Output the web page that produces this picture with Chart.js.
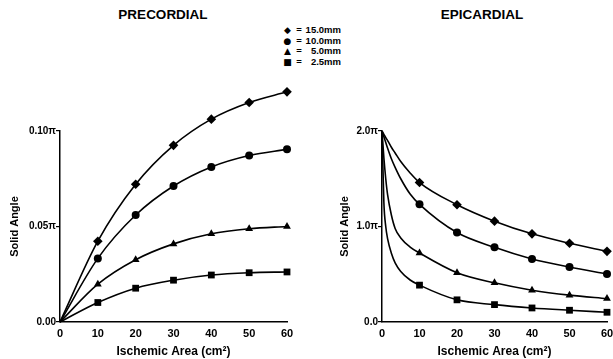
<!DOCTYPE html>
<html>
<head>
<meta charset="utf-8">
<script src="https://cdn.jsdelivr.net/npm/chart.js@4"></script>
<style>
  body { margin: 0; background: #fff; width: 613px; height: 359px; overflow: hidden; position: relative; }
  canvas { position: absolute; top: 0; }
  .ttl { position: absolute; top: 7px; font: bold 13.5px "Liberation Sans", Arial, sans-serif; color: #000; transform: translateX(-50%); white-space: nowrap; }
  .leg { position: absolute; left: 282px; font: bold 9.5px "Liberation Sans", Arial, sans-serif; color: #000; }
  .leg div { height: 10.7px; line-height: 10.7px; white-space: nowrap; }
  .leg .m { display: inline-block; width: 11px; text-align: center; font-family: "DejaVu Sans"; font-size: 9px; }
  .leg .e { display: inline-block; width: 12px; text-align: center; }
  .leg .v { display: inline-block; width: 36px; text-align: right; }
</style>
</head>
<body>
<div class="ttl" style="left:163px">PRECORDIAL</div>
<div class="ttl" style="left:482px">EPICARDIAL</div>
<div class="leg" id="legend" style="top:25px"></div>
<canvas id="pre" width="300" height="359" style="left:0"></canvas>
<canvas id="epi" width="320" height="359" style="left:300px"></canvas>
<script>
// electrode distances
let distances = ['15.0mm', '10.0mm', '5.0mm', '2.5mm'];
let markers = ['rectRot', 'circle', 'triangle', 'rect'];
let legendGlyphs = ['◆', '●', '▲', '■'];
let markerSizes = [4.8, 4, 4.5, 4.8];

// precordial (units of pi)
let preX = [0, 10, 20, 30, 40, 50, 60];
let pre150 = [0, 0.0423, 0.0721, 0.0925, 0.1062, 0.1149, 0.1205];
let pre100 = [0, 0.0333, 0.0560, 0.0712, 0.0812, 0.0872, 0.0904];
let pre50 = [0, 0.0198, 0.0326, 0.0409, 0.0462, 0.0488, 0.0500];
let pre25 = [0, 0.0102, 0.0177, 0.0219, 0.0246, 0.0258, 0.0262];
let preYLabels = ['0.00', '0.05π', '0.10π'];

// epicardial (units of pi), curve also read at a few x near zero
let epiX = [0, 0.5, 1, 1.5, 2.5, 3.5, 5, 7.5, 10, 20, 30, 40, 50, 60];
let epi150 = [2.0, 1.965, 1.93, 1.90, 1.83, 1.77, 1.68, 1.56, 1.46, 1.228, 1.056, 0.923, 0.824, 0.74];
let epi100 = [2.0, 1.94, 1.88, 1.82, 1.71, 1.62, 1.50, 1.34, 1.232, 0.937, 0.782, 0.66, 0.575, 0.502];
let epi50 = [2.0, 1.72, 1.50, 1.33, 1.12, 0.98, 0.88, 0.785, 0.723, 0.516, 0.41, 0.333, 0.281, 0.245];
let epi25 = [2.0, 1.25, 1.0, 0.87, 0.72, 0.62, 0.53, 0.44, 0.386, 0.232, 0.182, 0.147, 0.123, 0.102];
let epiYLabels = ['0.0', '1.0π', '2.0π'];

let markerX = [10, 20, 30, 40, 50, 60];
let xTitle = 'Ischemic Area (cm²)';
let yTitle = 'Solid Angle';

// legend
let leg = document.getElementById('legend');
for (let i = 0; i < distances.length; i++) {
    let row = document.createElement('div');
    row.innerHTML = '<span class="m">' + legendGlyphs[i] + '</span><span class="e">=</span><span class="v">' + distances[i] + '</span>';
    leg.appendChild(row);
}

const FONT = '"Liberation Sans", Arial, sans-serif';

// let markers above the top tick still be drawn
const openTop = {
    id: 'openTop',
    beforeDatasetsDraw(chart) {
        chart._area = chart.chartArea;
        chart.chartArea = Object.assign({}, chart.chartArea, { top: 0 });
    },
    afterDatasetsDraw(chart) {
        chart.chartArea = chart._area;
    }
};

function makeSets(xs, series) {
    return series.map((ys, i) => ({
        label: distances[i],
        data: xs.map((x, j) => ({ x: x, y: ys[j] })),
        borderColor: '#000',
        borderWidth: 1.6,
        backgroundColor: '#000',
        pointStyle: markers[i],
        pointRadius: ctx => markerX.includes(ctx.raw.x) ? markerSizes[i] : 0,
        pointBorderWidth: 0,
        cubicInterpolationMode: 'monotone',
        clip: false
    }));
}

function makeChart(id, sets, yMax, yStep, yLabels, yWidth, yTitlePad) {
    return new Chart(document.getElementById(id), {
        type: 'line',
        data: { datasets: sets },
        plugins: [openTop],
        options: {
            responsive: false,
            animation: false,
            layout: { padding: { top: 131, right: 13, bottom: 0, left: 0 } },
            plugins: { legend: { display: false }, tooltip: { enabled: false } },
            scales: {
                x: {
                    type: 'linear', min: 0, max: 60,
                    grid: { display: false, drawTicks: false },
                    border: { display: true, color: '#000', width: 1.5 },
                    ticks: { stepSize: 10, padding: 5, color: '#000', maxRotation: 0, font: { family: FONT, size: 11, weight: 'bold' } },
                    title: { display: true, text: xTitle, color: '#000', padding: 0, font: { family: FONT, size: 12, weight: 'bold' } },
                    afterFit: s => { s.height = 37; }
                },
                y: {
                    min: 0, max: yMax,
                    grid: { display: true, drawOnChartArea: false, drawTicks: true, tickLength: 4, color: '#000', lineWidth: 1.2 },
                    border: { display: true, color: '#000', width: 1.5 },
                    ticks: { stepSize: yStep, padding: 0, color: '#000', font: { family: FONT, size: 10, weight: 'bold' },
                        callback: (v, i) => yLabels[i] },
                    title: { display: true, text: yTitle, color: '#000', padding: { top: yTitlePad, bottom: 0 }, font: { family: FONT, size: 11, weight: 'bold' } },
                    afterFit: s => { s.width = yWidth; }
                }
            }
        }
    });
}

makeChart('pre', makeSets(preX, [pre150, pre100, pre50, pre25]), 0.10, 0.05, preYLabels, 60, 8.4);
makeChart('epi', makeSets(epiX, [epi150, epi100, epi50, epi25]), 2.0, 1.0, epiYLabels, 82, 38.4);
</script>
</body>
</html>
